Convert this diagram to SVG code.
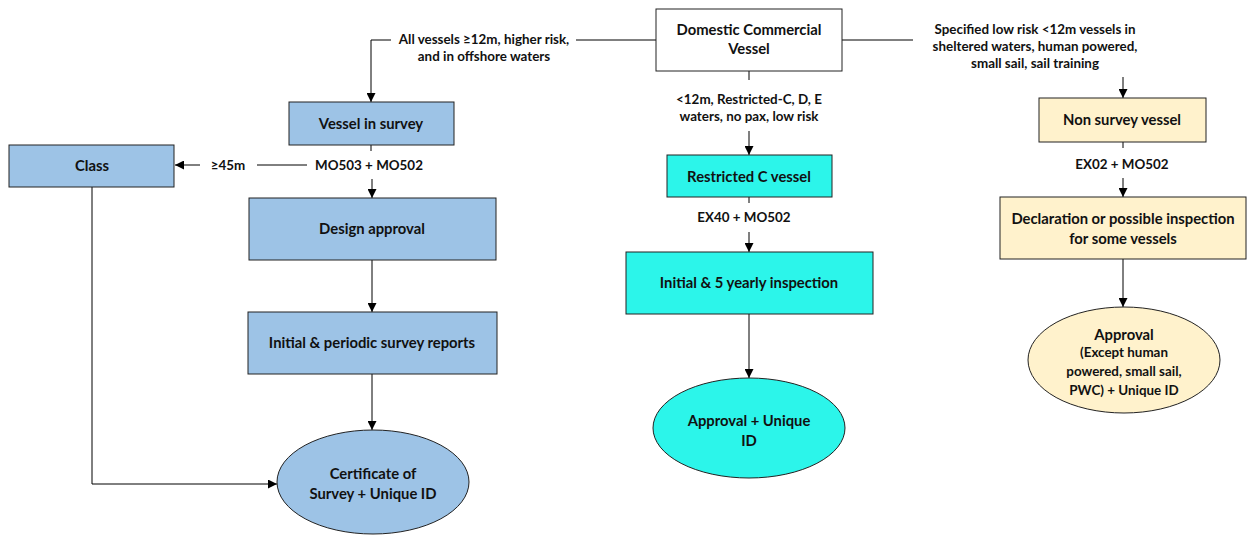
<svg xmlns="http://www.w3.org/2000/svg" width="1249" height="535" viewBox="0 0 1249 535">
<defs>
<marker id="ah" viewBox="0 0 10 10" refX="10" refY="5" markerWidth="9" markerHeight="9" markerUnits="userSpaceOnUse" orient="auto"><path d="M0,0 L10,5 L0,10 z" fill="#000"/></marker>
<style>
.t{font-family:Lato,"Liberation Sans",sans-serif;font-weight:bold;font-size:14.8px;fill:#111;text-anchor:middle}
.s{font-size:13.4px}
.l{fill:none;stroke:#000;stroke-width:1}
.a{fill:none;stroke:#000;stroke-width:1;marker-end:url(#ah)}
.w{fill:#fff;stroke:#222;stroke-width:1}
.b{fill:#9DC3E6;stroke:#222;stroke-width:1}
.c{fill:#2CF5EA;stroke:#222;stroke-width:1}
.y{fill:#FFF2CC;stroke:#222;stroke-width:1}
</style>
</defs>
<rect width="1249" height="535" fill="#fff"/>
<g id="connectors">
<polyline class="a" points="391,40 371,40 371,102"/>
<line class="l" x1="576" y1="40" x2="656" y2="40"/>
<line class="l" x1="842" y1="40" x2="913" y2="40"/>
<line class="a" x1="1123" y1="77" x2="1123" y2="98"/>
<line class="l" x1="749" y1="71" x2="749" y2="80"/>
<line class="a" x1="749" y1="131" x2="749" y2="155"/>
<line class="l" x1="371" y1="145" x2="371" y2="151"/>
<line class="a" x1="200" y1="165" x2="175" y2="165"/>
<line class="l" x1="257" y1="165" x2="307" y2="165"/>
<line class="a" x1="372" y1="179" x2="372" y2="198"/>
<line class="a" x1="372" y1="260" x2="372" y2="312"/>
<line class="a" x1="372" y1="374" x2="372" y2="430"/>
<polyline class="a" points="92,187 92,484 277,484"/>
<line class="l" x1="749" y1="197" x2="749" y2="203"/>
<line class="a" x1="749" y1="232" x2="749" y2="252"/>
<line class="a" x1="749" y1="314" x2="749" y2="378"/>
<line class="l" x1="1123" y1="142" x2="1123" y2="148"/>
<line class="a" x1="1123" y1="178" x2="1123" y2="197"/>
<line class="a" x1="1123" y1="259" x2="1123" y2="307"/>
<text class="t s" x="484" y="44">All vessels ≥12m, higher risk,</text>
<text class="t s" x="484" y="61">and in offshore waters</text>
<text class="t s" x="1035" y="34">Specified low risk &lt;12m vessels in</text>
<text class="t s" x="1035" y="51">sheltered waters, human powered,</text>
<text class="t s" x="1035" y="68">small sail, sail training</text>
<text class="t s" x="749" y="104">&lt;12m, Restricted-C, D, E</text>
<text class="t s" x="749" y="121">waters, no pax, low risk</text>
<text class="t s" x="228" y="170">≥45m</text>
<text class="t s" x="369" y="170">MO503 + MO502</text>
<text class="t s" x="744" y="222">EX40 + MO502</text>
<text class="t s" x="1122" y="169">EX02 + MO502</text>
</g>
<g id="dcv"><rect class="w" x="656" y="9" width="186" height="62"/><text class="t" x="749" y="35">Domestic Commercial</text><text class="t" x="749" y="54">Vessel</text></g>
<g id="vessel-in-survey"><rect class="b" x="289" y="102" width="165" height="43"/><text class="t" x="371" y="129">Vessel in survey</text></g>
<g id="class"><rect class="b" x="9" y="145" width="165" height="42"/><text class="t" x="92" y="171">Class</text></g>
<g id="design-approval"><rect class="b" x="249" y="198" width="247" height="62"/><text class="t" x="372" y="234">Design approval</text></g>
<g id="initial-periodic"><rect class="b" x="248" y="312" width="249" height="62"/><text class="t" x="372" y="348">Initial &amp; periodic survey reports</text></g>
<g id="certificate"><ellipse class="b" cx="373" cy="482" rx="96" ry="52"/><text class="t" x="373" y="479">Certificate of</text><text class="t" x="373" y="499">Survey + Unique ID</text></g>
<g id="restricted-c"><rect class="c" x="667" y="155" width="165" height="42"/><text class="t" x="749" y="182">Restricted C vessel</text></g>
<g id="initial-5yearly"><rect class="c" x="626" y="252" width="247" height="62"/><text class="t" x="749" y="288">Initial &amp; 5 yearly inspection</text></g>
<g id="approval-c"><ellipse class="c" cx="749" cy="428" rx="96" ry="50"/><text class="t" x="749" y="426">Approval + Unique</text><text class="t" x="749" y="446">ID</text></g>
<g id="non-survey"><rect class="y" x="1039" y="98" width="167" height="44"/><text class="t" x="1122" y="125">Non survey vessel</text></g>
<g id="declaration"><rect class="y" x="1000" y="197" width="246" height="62"/><text class="t" x="1123" y="224">Declaration or possible inspection</text><text class="t" x="1123" y="244">for some vessels</text></g>
<g id="approval-ns"><ellipse class="y" cx="1124" cy="360" rx="96" ry="53"/><text class="t" x="1124" y="340">Approval</text><text class="t s" x="1124" y="357">(Except human</text><text class="t s" x="1124" y="376">powered, small sail,</text><text class="t s" x="1124" y="395">PWC) + Unique ID</text></g>
</svg>
